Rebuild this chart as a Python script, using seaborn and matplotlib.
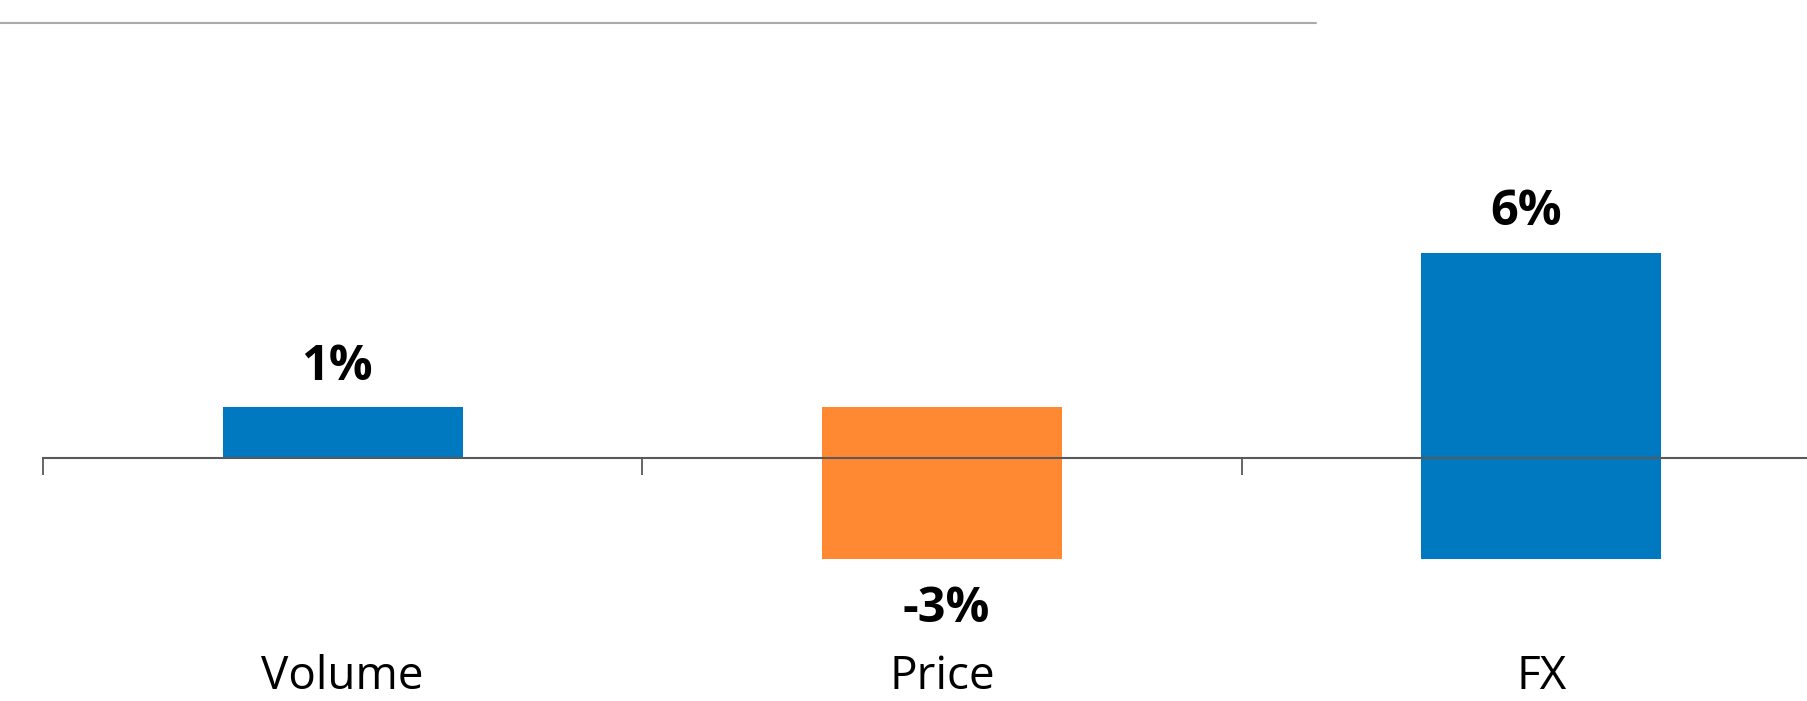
import matplotlib
matplotlib.use('Agg')
import numpy as np
import seaborn as sns
import pandas as pd
import matplotlib.pyplot as plt
from matplotlib.lines import Line2D

# waterfall data
categories = ["Volume", "Price", "FX"]
changes = [1.0, -3.0, 6.05]
labels = ["1%", "-3%", "6%"]
colors = ["#0079c1", "#ff8833", "#0079c1"]

starts = np.concatenate([[0], np.cumsum(changes)[:-1]])
ends = starts + np.array(changes)

data = pd.DataFrame({"cat": categories, "change": changes, "start": starts})

sns.set_style("white")
plt.rcParams['font.family'] = ['Open Sans', 'DejaVu Sans']
plt.rcParams['text.color'] = 'black'

fig = plt.figure(figsize=(18.08, 7.01), dpi=100)
ax = fig.add_axes([43 / 1808, 0, 1798 / 1808, 1])

sns.barplot(data=data, x="cat", y="change", bottom=data["start"].values,
            color=colors[0], width=0.4, saturation=1, ax=ax, errorbar=None)
for p, c in zip(ax.patches, colors):
    p.set_facecolor(c)
    p.set_edgecolor("none")

ax.set_xlim(-0.5, 2.5)
ax.set_ylim(-4.79, 9.03)

for s in ["top", "left", "right"]:
    ax.spines[s].set_visible(False)
ax.spines["bottom"].set_position(("data", 0))
ax.spines["bottom"].set_color("#595959")
ax.spines["bottom"].set_linewidth(1.5)
ax.set_yticks([])
ax.set_xticks([-0.5, 0.5, 1.5, 2.5])
ax.set_xticklabels([])
ax.tick_params(axis="x", direction="out", length=12, width=1.3, color="#595959", bottom=True)
ax.set_xlabel("")
ax.set_ylabel("")

# label nudges (points) to follow the original placement
dx = [-4, 3, -11]
for i, (lab, ch, e) in enumerate(zip(labels, changes, ends)):
    dy = 29 if ch >= 0 else -36
    ax.annotate(lab, (i, e), xytext=(dx[i], dy), textcoords="offset points",
                ha="center", va="center", fontsize=35, fontweight="bold", color="black")
    ax.text(i, -4.56, categories[i], ha="center", va="baseline", fontsize=33, color="black")

# thin rule across the top
fig.add_artist(Line2D([0, 1316 / 1808], [1 - 23 / 701, 1 - 23 / 701],
                      color="#aaaaaa", linewidth=1.5, transform=fig.transFigure))

fig.savefig("out.png", dpi=100)
